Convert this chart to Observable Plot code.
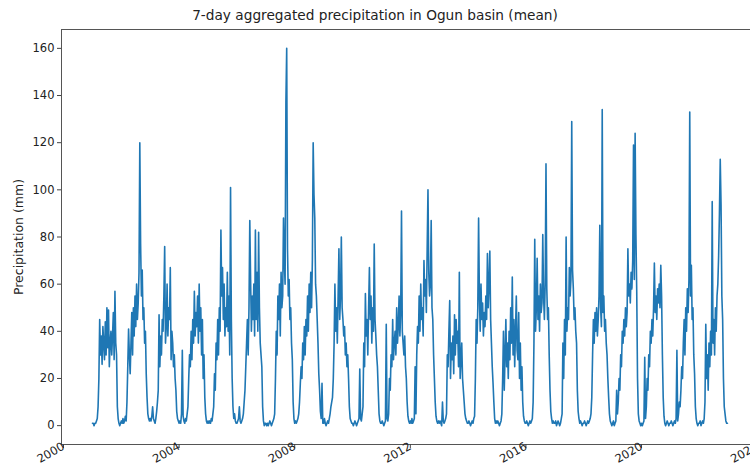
<!DOCTYPE html>
<html><head><meta charset="utf-8">
<script src="https://cdn.jsdelivr.net/npm/d3@7"></script>
<script src="https://cdn.jsdelivr.net/npm/@observablehq/plot@0.6"></script>
<style>
body{margin:0;background:#fff;font-family:"DejaVu Sans",sans-serif;}
#title{height:28px;width:750px;text-align:center;font-size:13.7px;line-height:30px;color:#222;white-space:nowrap;}
#chart svg{display:block;}
</style></head><body>
<div id="title">7-day aggregated precipitation in Ogun basin (mean)</div>
<div id="chart"></div>
<script>
const title = "7-day aggregated precipitation in Ogun basin (mean)";
const yLabel = "Precipitation (mm)";
const years = [2001,2002,2003,2004,2005,2006,2007,2008,2009,2010,2011,2012,2013,2014,2015,2016,2017,2018,2019,2020,2021,2022];
const yTicks = [0,20,40,60,80,100,120,140,160];
const xTickYears = [2000,2004,2008,2012,2016,2020,2024];

// ~10-day samples (36 per year) of the 7-day aggregated mean precipitation (mm)
const p2001 = [1,1,0,1,1,2,3,8,20,45,30,38,26,42,35,28,44,30,50,33,49,25,35,40,30,38,48,28,57,35,30,8,3,1,0,1];
const p2002 = [2,1,3,1,2,4,2,10,25,41,30,22,35,48,30,50,38,55,42,60,45,52,65,120,77,55,66,45,50,35,40,22,12,5,3,2];
const p2003 = [3,2,4,8,3,2,1,3,6,10,15,47,25,38,30,45,40,55,76,35,42,60,38,50,45,67,28,40,35,25,30,20,15,6,3,2];
const p2004 = [1,2,1,5,32,4,2,1,3,2,5,8,20,30,25,40,28,45,35,57,38,48,42,55,35,60,40,50,30,45,20,30,12,5,2,1];
const p2005 = [2,1,2,1,3,2,5,8,22,15,35,28,45,30,50,40,83,55,67,45,60,38,50,42,65,40,55,30,101,45,20,8,3,5,2,1];
const p2006 = [1,2,3,8,2,1,2,3,5,10,15,25,35,45,30,50,87,62,40,55,45,60,38,83,45,65,40,82,50,35,30,25,8,2,0,1];
const p2007 = [1,0,1,0,1,2,1,0,1,2,3,5,20,40,30,55,45,60,38,65,50,55,88,70,60,137,160,75,55,62,45,50,35,28,10,3];
const p2008 = [1,2,1,2,3,5,10,18,25,20,35,28,42,30,45,38,55,40,60,48,65,50,70,120,98,88,60,55,45,35,22,15,6,3,18,1];
const p2009 = [1,3,1,0,1,2,1,3,5,8,10,12,20,35,60,40,50,35,55,75,45,55,80,50,45,38,42,30,35,25,30,20,8,3,2,1];
const p2010 = [1,0,1,2,1,0,1,2,3,24,3,2,5,8,35,25,56,38,45,30,50,67,45,55,35,50,40,77,45,38,30,25,15,5,2,1];
const p2011 = [1,2,1,0,1,2,43,3,2,5,20,15,30,25,45,28,35,40,30,50,35,42,55,38,48,91,40,35,30,38,25,20,10,4,2,1];
const p2012 = [2,1,3,1,2,3,25,5,30,42,35,55,40,60,45,50,38,70,55,62,48,75,100,65,55,60,87,50,45,30,20,10,4,2,1,2];
const p2013 = [1,2,1,0,10,2,1,2,3,5,30,25,40,53,20,35,28,38,22,47,30,45,35,40,25,65,20,28,35,20,15,10,5,3,2,1];
const p2014 = [1,2,1,0,1,2,1,3,4,20,45,35,50,88,55,40,60,45,52,38,48,42,55,45,73,50,60,74,45,35,25,18,10,3,1,2];
const p2015 = [1,2,1,0,1,2,5,20,40,15,30,45,25,35,20,40,28,50,35,63,30,45,25,40,55,32,28,48,20,35,15,25,10,4,2,1];
const p2016 = [1,2,1,0,1,2,1,2,3,10,35,79,40,50,71,45,55,40,60,48,52,81,55,45,60,111,58,45,50,30,15,6,3,1,2,1];
const p2017 = [1,2,0,1,2,1,0,1,3,5,35,20,45,30,80,40,50,45,67,55,62,129,66,58,45,50,40,35,15,6,3,1,2,1,0,1];
const p2018 = [1,2,1,0,1,2,1,2,3,5,12,30,45,35,48,40,50,38,45,55,85,50,42,134,48,55,40,45,35,30,20,12,5,2,1,0];
const p2019 = [1,2,0,1,2,15,5,10,20,15,30,25,40,35,45,38,50,42,48,75,55,60,52,65,58,70,119,62,124,81,57,20,5,2,1,0];
const p2020 = [1,0,1,2,29,3,8,20,15,30,25,40,35,45,38,50,69,48,55,45,58,52,60,50,68,55,30,12,4,1,0,1,2,1,0,1];
const p2021 = [1,2,1,0,1,2,1,3,32,2,5,10,8,15,25,20,35,45,30,50,40,58,48,62,133,55,68,45,50,30,22,8,3,1,0,1];
const p2022 = [1,2,0,1,2,1,3,10,43,20,30,15,35,25,40,30,95,35,45,30,50,40,55,60,72,90,113,94,55,45,20,8,5,2,1,1];
const series = [p2001,p2002,p2003,p2004,p2005,p2006,p2007,p2008,p2009,p2010,p2011,p2012,p2013,p2014,p2015,p2016,p2017,p2018,p2019,p2020,p2021,p2022];

const DAY = 864e5;
const fy = y => new Date(Date.UTC(Math.floor(y), 0, 1) + (y - Math.floor(y)) * 365.25 * DAY);
const data = [];
series.forEach((vals, k) => vals.forEach((v, i) => {
  data.push({date: new Date(Date.UTC(years[k], 0, 1) + i * 365.25 / 36 * DAY), value: v});
}));
const xDomain = [fy(1999.93), fy(2023.77)];
const xTicks = xTickYears.map(y => new Date(Date.UTC(y, 0, 1)));

const chart = Plot.plot({
  width: 750,
  height: 446,
  marginTop: 1,
  marginBottom: 30,
  marginLeft: 61,
  marginRight: 0,
  style: {fontFamily: "DejaVu Sans, sans-serif", fontSize: "11.5px", color: "#222", background: "#fff", overflow: "visible"},
  x: {type: "utc", domain: xDomain},
  y: {domain: [-8, 168]},
  marks: [
    Plot.line(data, {x: "date", y: "value", stroke: "#1f77b4", strokeWidth: 1.6}),
    Plot.ruleY([-8, 168], {stroke: "#555", strokeWidth: 1}),
    Plot.ruleX([xDomain[0]], {stroke: "#555", strokeWidth: 1}),
    Plot.axisY({ticks: yTicks, tickSize: 4, tickPadding: 3, label: null, stroke: "#444"}),
    Plot.axisX({ticks: xTicks, tickSize: 4, text: null, label: null, stroke: "#444"}),
    Plot.axisX({ticks: xTicks, tickFormat: d => String(d.getUTCFullYear()), tickSize: 0, tickPadding: 1, tickRotate: -30, label: null}),
    Plot.text([yLabel], {frameAnchor: "left", dx: -43, rotate: -90, textAnchor: "middle", fontSize: 12.5, fill: "#222"})
  ]
});
document.getElementById("chart").appendChild(chart);
</script>
</body></html>
